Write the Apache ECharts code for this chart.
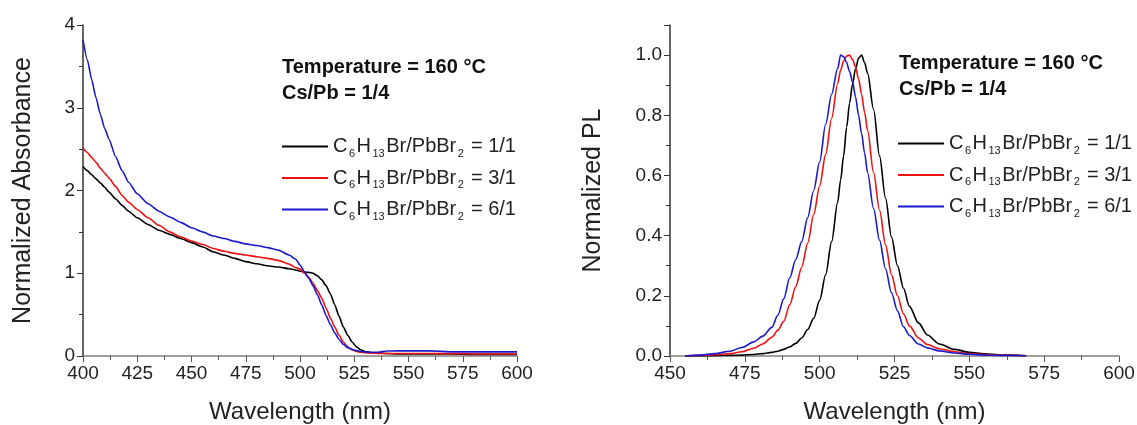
<!DOCTYPE html>
<html><head><meta charset="utf-8">
<script src="https://cdn.jsdelivr.net/npm/echarts@6/dist/echarts.min.js"></script>
<style>html,body{margin:0;padding:0;background:#fff}#c{width:1137px;height:425px}</style>
</head><body><div id="c"></div>
<script>
// ---------- data ----------
const seriesNames = ['C6H13Br/PbBr2 = 1/1', 'C6H13Br/PbBr2 = 3/1', 'C6H13Br/PbBr2 = 6/1'];
const seriesColors = ['#000000', '#ee1111', '#1a1acc'];

const absXTicks = [400, 425, 450, 475, 500, 525, 550, 575, 600];
const absYTicks = [0, 1, 2, 3, 4];
const plXTicks = [450, 475, 500, 525, 550, 575, 600];
const plYTicks = [0.0, 0.2, 0.4, 0.6, 0.8, 1.0];

const absWavelength = [400,402,404,406,408,410,412,415,418,421,425,430,435,440,445,450,455,460,465,470,475,480,485,490,495,498,500,502,504,506,508,510,512,514,516,518,520,522,524,526,528,530,533,536,540,545,550,560,570,580,590,600];
const absBlack = [2.29,2.24,2.19,2.14,2.09,2.04,1.98,1.90,1.82,1.75,1.67,1.59,1.52,1.47,1.42,1.37,1.32,1.26,1.22,1.18,1.14,1.115,1.09,1.075,1.055,1.04,1.025,1.015,1.01,1.00,0.97,0.92,0.85,0.75,0.62,0.48,0.35,0.25,0.17,0.11,0.075,0.055,0.04,0.035,0.03,0.025,0.025,0.025,0.025,0.02,0.02,0.02];
const absRed = [2.51,2.46,2.40,2.34,2.27,2.21,2.15,2.05,1.94,1.86,1.77,1.67,1.58,1.50,1.44,1.39,1.35,1.30,1.265,1.24,1.22,1.20,1.18,1.155,1.11,1.07,1.05,1.00,0.95,0.88,0.79,0.70,0.58,0.46,0.35,0.25,0.17,0.11,0.075,0.055,0.045,0.04,0.035,0.032,0.03,0.03,0.03,0.03,0.028,0.025,0.025,0.025];
const absBlue = [3.82,3.58,3.34,3.12,2.92,2.75,2.62,2.41,2.24,2.10,1.96,1.84,1.75,1.68,1.615,1.55,1.50,1.45,1.42,1.385,1.355,1.335,1.31,1.28,1.22,1.17,1.10,1.02,0.94,0.85,0.74,0.62,0.49,0.38,0.28,0.20,0.14,0.10,0.08,0.065,0.055,0.048,0.045,0.045,0.06,0.062,0.062,0.062,0.05,0.05,0.05,0.05];

const plWavelength = [455,460,465,470,474,478,481,484,486,488,490,492,494,496,498,500,502,504,506,507,508,509,510,511,512,513,514,515,516,518,520,522,524,526,528,530,533,536,540,545,550,555,560,569];
const plBlack = [0,0,0.001,0.002,0.003,0.005,0.008,0.012,0.016,0.022,0.03,0.042,0.06,0.088,0.125,0.185,0.27,0.38,0.51,0.585,0.665,0.76,0.84,0.905,0.955,0.99,1.0,0.975,0.94,0.82,0.665,0.525,0.395,0.30,0.225,0.165,0.11,0.07,0.04,0.022,0.012,0.007,0.004,0.001];
const plRed = [0,0.002,0.004,0.008,0.014,0.026,0.04,0.062,0.085,0.115,0.17,0.23,0.295,0.375,0.47,0.565,0.67,0.79,0.905,0.95,0.98,0.997,1.0,0.985,0.96,0.92,0.87,0.81,0.75,0.61,0.485,0.37,0.27,0.20,0.14,0.10,0.06,0.038,0.024,0.014,0.008,0.005,0.003,0.001];
const plBlue = [0,0.003,0.008,0.016,0.028,0.047,0.066,0.095,0.135,0.19,0.26,0.32,0.38,0.46,0.55,0.645,0.77,0.87,0.955,1.0,0.995,0.975,0.945,0.91,0.86,0.80,0.74,0.675,0.61,0.49,0.385,0.29,0.21,0.15,0.097,0.068,0.04,0.027,0.017,0.01,0.006,0.003,0.002,0.001];

// ---------- chart ----------
const F = 'Liberation Sans, Arial, sans-serif';
const TXT = '#222';
function pairs(xs, ys){ return xs.map((x,i)=>[x, ys[i]]); }
function legendLabel(name){
  const ratio = name.split('= ')[1];
  return '{n|C}{s|6}{n|H}{s|13}{n|Br/PbBr}{s|2}{n| = ' + ratio + '}';
}
const legendRich = {
  n: {fontSize: 20, fontFamily: F, color: TXT, lineHeight: 26},
  s: {fontSize: 11, fontFamily: F, color: TXT, lineHeight: 12, padding: [14, 1.5, 0, 1.5]}
};
function mkLegend(left, top){
  return {left: left, top: top, orient: 'vertical', itemWidth: 46, itemHeight: 14, itemGap: 6.5,
    padding: 0, data: seriesNames, formatter: legendLabel, selectedMode: false,
    itemStyle: {opacity: 0, borderWidth: 0},
    textStyle: {rich: legendRich}};
}
function mkXAxis(gi, ticks){
  return {type: 'value', gridIndex: gi, min: ticks[0], max: ticks[ticks.length-1], interval: ticks[1]-ticks[0],
    name: 'Wavelength (nm)', nameLocation: 'middle', nameGap: 44,
    nameTextStyle: {fontSize: 24, fontFamily: F, color: TXT},
    axisLine: {lineStyle: {color: '#808080', width: 1.5}},
    axisTick: {show: true, inside: false, length: 6, lineStyle: {color: '#555'}},
    minorTick: {show: true, splitNumber: 2, length: 4, lineStyle: {color: '#555'}},
    splitLine: {show: false}, minorSplitLine: {show: false},
    axisLabel: {fontSize: 19, fontFamily: F, color: TXT, margin: 8}};
}
function mkYAxis(gi, ticks, max, name, gap, fmt){
  return {type: 'value', gridIndex: gi, min: ticks[0], max: max, interval: ticks[1]-ticks[0],
    name: name, nameLocation: 'middle', nameGap: gap,
    nameTextStyle: {fontSize: 25, fontFamily: F, color: TXT},
    axisLine: {show: true, lineStyle: {color: '#333', width: 1.5}},
    axisTick: {show: true, inside: false, length: 6, lineStyle: {color: '#333'}},
    minorTick: {show: true, splitNumber: 2, length: 4, lineStyle: {color: '#333'}},
    splitLine: {show: false}, minorSplitLine: {show: false},
    axisLabel: {fontSize: 19, fontFamily: F, color: TXT, margin: 8, formatter: fmt}};
}
function mkSeries(name, color, xi, data, smooth){
  return {type: 'line', name: name, xAxisIndex: xi, yAxisIndex: xi, data: data, symbol: 'none',
    smooth: smooth, smoothMonotone: 'x', lineStyle: {color: color, width: 1.6}, itemStyle: {color: color},
    emphasis: {disabled: true}};
}
const absVals = [absBlack, absRed, absBlue];
const plVals = [plBlack, plRed, plBlue];
const series = [];
seriesNames.forEach((n,i)=>series.push(mkSeries(n, seriesColors[i], 0, pairs(absWavelength, absVals[i]), 0.2)));
seriesNames.forEach((n,i)=>series.push(mkSeries(n, seriesColors[i], 1, pairs(plWavelength, plVals[i]), 0.3)));

const titleStyle = {fontSize: 20, fontWeight: 'bold', fontFamily: F, color: '#111', lineHeight: 26};
const chart = echarts.init(document.getElementById('c'), null, {renderer: 'canvas'});
chart.setOption({
  animation: false,
  backgroundColor: '#fff',
  title: [
    {left: 282, top: 54, padding: 0, text: 'Temperature = 160 °C\nCs/Pb = 1/4', textStyle: titleStyle},
    {left: 899, top: 50, padding: 0, text: 'Temperature = 160 °C\nCs/Pb = 1/4', textStyle: titleStyle}
  ],
  legend: [mkLegend(281, 134), mkLegend(897, 131)],
  grid: [
    {left: 83, right: 620, top: 25, bottom: 69, containLabel: false, outerBoundsMode: 'none'},
    {left: 670, right: 18, top: 25, bottom: 69, containLabel: false, outerBoundsMode: 'none'}
  ],
  xAxis: [mkXAxis(0, absXTicks), mkXAxis(1, plXTicks)],
  yAxis: [
    mkYAxis(0, absYTicks, absYTicks[absYTicks.length-1], 'Normalized Absorbance', 47, v => String(v)),
    mkYAxis(1, plYTicks, 1.1, 'Normalized PL', 64, v => v > 1.05 ? '' : v.toFixed(1))
  ],
  series: series
});
</script>
</body></html>
